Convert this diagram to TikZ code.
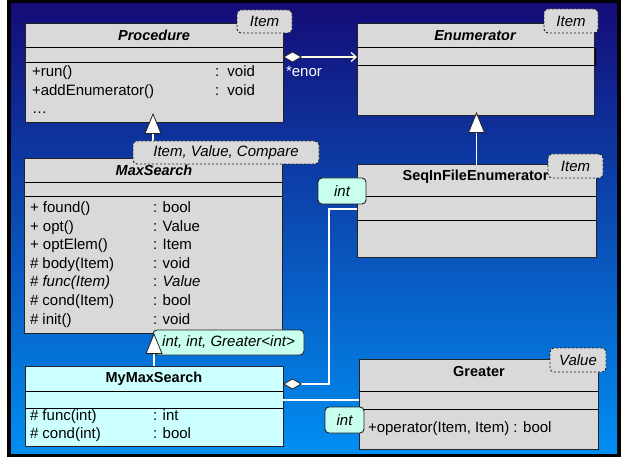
\documentclass[tikz,border=0pt]{standalone}
\usepackage{fontspec}
\setmainfont{Liberation Sans}
\usetikzlibrary{arrows.meta}
\definecolor{bgtop}{RGB}{20,12,120}
\definecolor{bgmid}{RGB}{12,98,188}
\definecolor{bgbot}{RGB}{0,142,242}
\definecolor{boxgrey}{RGB}{217,217,217}
\definecolor{cyanbox}{RGB}{204,255,255}
\definecolor{bindbox}{RGB}{200,255,238}
\definecolor{edge}{RGB}{35,35,35}
\definecolor{assoc}{RGB}{255,255,225}
\tikzset{dia/.tip={Diamond[length=19pt,width=11pt,color=edge,fill=white,line width=0.8pt]}}
\begin{document}
\begin{tikzpicture}[x=1pt,y=-1pt,
  every node/.style={font=\fontsize{15pt}{18pt}\selectfont, inner sep=0pt, outer sep=0pt},
  cls/.style={draw=edge, line width=1pt, fill=boxgrey, anchor=north west},
  clscyan/.style={cls, fill=cyanbox},
  sep/.style={draw=black, line width=1pt},
  tmpl/.style={draw=edge, line width=0.9pt, dash pattern=on 2.2pt off 1.8pt, rounded corners=4pt, fill=boxgrey, anchor=north west},
  bind/.style={draw=edge, line width=0.9pt, rounded corners=4pt, fill=bindbox, anchor=north west},
  mem/.style={anchor=west, text height=11pt, text depth=3pt},
  cname/.style={font=\fontsize{14.5pt}{17pt}\selectfont\bfseries, text height=11pt, text depth=3pt},
  iname/.style={font=\fontsize{14.5pt}{17pt}\selectfont\bfseries\itshape, text height=11pt, text depth=3pt},
  gen/.style={draw=white, line width=1.3pt, -{Triangle[length=21pt,width=17pt,color=edge,fill=white,line width=0.8pt]}},
  agg/.style={draw=white, line width=1.3pt}
]
\useasboundingbox (0,0) rectangle (624,457);
\fill[white] (0,0) rectangle (624,457);
\fill[black] (7,0) rectangle (621,457);
\shade[top color=bgtop, middle color=bgmid, bottom color=bgbot] (11,4) rectangle (617,453);

% ---------- Procedure ----------
\node[cls, minimum width=258pt, minimum height=99pt] (proc) at (25,24) {};
\draw[sep] (25,48) -- (283,48);
\draw[sep] (25,63) -- (283,63);
\node[iname] (procN) at (154,37) {Procedure};
\node[mem] (p1) at (32,73) {+run()};
\node[mem] (p1t) at (215,73) {:~~void};
\node[mem] (p2) at (32,92) {+addEnumerator()};
\node[mem] (p2t) at (215,92) {:~~void};
\node[mem] (p3) at (32,110) {…};

% ---------- Enumerator ----------
\node[cls, minimum width=237pt, minimum height=92pt] (enum) at (357,24) {};
\draw[sep] (357,48) -- (594,48);
\draw[sep] (357,66) -- (595,66);
\draw[sep] (595,48) -- (595,66);
\node[iname] (enumN) at (475,37) {Enumerator};

% ---------- MaxSearch ----------
\node[cls, minimum width=258pt, minimum height=174pt] (ms) at (24,159) {};
\draw[sep] (24,183) -- (282,183);
\draw[sep] (24,197) -- (282,197);
\node[iname] (msN) at (154,172) {MaxSearch};
\node[mem] (m1) at (30,209) {+ found()};
\node[mem] (m1t) at (153,209) {: bool};
\node[mem] (m2) at (30,227.5) {+ opt()};
\node[mem] (m2t) at (153,227.5) {: Value};
\node[mem] (m3) at (30,246) {+ optElem()};
\node[mem] (m3t) at (153,246) {: Item};
\node[mem] (m4) at (30,264.5) {\# body(Item)};
\node[mem] (m4t) at (153,264.5) {: void};
\node[mem] (m5) at (30,283) {\# \textit{func(Item)}};
\node[mem] (m5t) at (153,283) {: \textit{Value}};
\node[mem] (m6) at (30,301.5) {\# cond(Item)};
\node[mem] (m6t) at (153,301.5) {: bool};
\node[mem] (m7) at (30,320) {\# init()};
\node[mem] (m7t) at (153,320) {: void};

% ---------- SeqInFileEnumerator ----------
\node[cls, minimum width=239pt, minimum height=93pt] (seq) at (357,165) {};
\draw[sep] (357,197) -- (596,197);
\draw[sep] (357,221) -- (596,221);
\node[cname] (seqN) at (475.5,177) {SeqInFileEnumerator};

% ---------- MyMaxSearch ----------
\node[clscyan, minimum width=258pt, minimum height=80pt] (mm) at (25,366) {};
\draw[sep] (25,391) -- (283,391);
\draw[sep] (25,408) -- (283,408);
\node[cname] (mmN) at (154,378) {MyMaxSearch};
\node[mem] (y1) at (30,416) {\# func(int)};
\node[mem] (y1t) at (153,416) {: int};
\node[mem] (y2) at (30,434) {\# cond(int)};
\node[mem] (y2t) at (153,434) {: bool};

% ---------- Greater ----------
\node[cls, minimum width=239pt, minimum height=90pt] (gr) at (359,359) {};
\draw[sep] (359,391) -- (598,391);
\draw[sep] (359,409) -- (598,409);
\node[cname] (grN) at (479,372) {Greater};
\node[mem] (g1) at (368,428) {+operator(Item, Item) : bool};

% ---------- connectors ----------
\draw[agg, draw=assoc, {dia}-{Straight Barb[length=5pt,width=9pt,color=assoc]}]
  ([yshift=-33pt]proc.north east) -- ([yshift=-33pt]enum.north west);
\node[anchor=west, text=white, text height=11pt, text depth=3pt] (enorL) at (286,73) {*enor};

\draw[gen, shorten >=-10pt] (ms.north) -- (ms.north |- proc.south);
\draw[gen, shorten >=-4pt] (seq.north) -- (seq.north |- enum.south);

\draw[agg, {dia}-] ([yshift=-18pt]mm.north east) -| ([xshift=-28pt,yshift=-44pt]seq.north west) -- ([yshift=-44pt]seq.north west);
\draw[agg] ([yshift=-34pt]mm.north east) -- ([yshift=-41pt]gr.north west);

% ---------- templates & bindings ----------
\node[tmpl, minimum width=55pt, minimum height=23pt] (tp1) at (237,10) {\itshape Item};
\node[tmpl, minimum width=54pt, minimum height=24pt] (tp2) at (544,9) {\itshape Item};
\node[tmpl, minimum width=186pt, minimum height=23pt] (tp3) at (133,141) {\itshape Item, Value, Compare};
\node[tmpl, minimum width=55pt, minimum height=24pt] (tp4) at (548,154) {\itshape Item};
\node[tmpl, minimum width=56pt, minimum height=24pt] (tp5) at (550,348) {\itshape Value};

\node[bind, minimum width=48pt, minimum height=26pt] (b1) at (318,178) {\itshape int};
\node[bind, minimum width=151pt, minimum height=25pt] (b2) at (153,330) {\itshape int, int, Greater<int>};
\node[bind, minimum width=39pt, minimum height=26pt] (b3) at (325,407) {\itshape int};

\draw[gen] (mm.north) -- (mm.north |- ms.south);
\end{tikzpicture}
\end{document}
